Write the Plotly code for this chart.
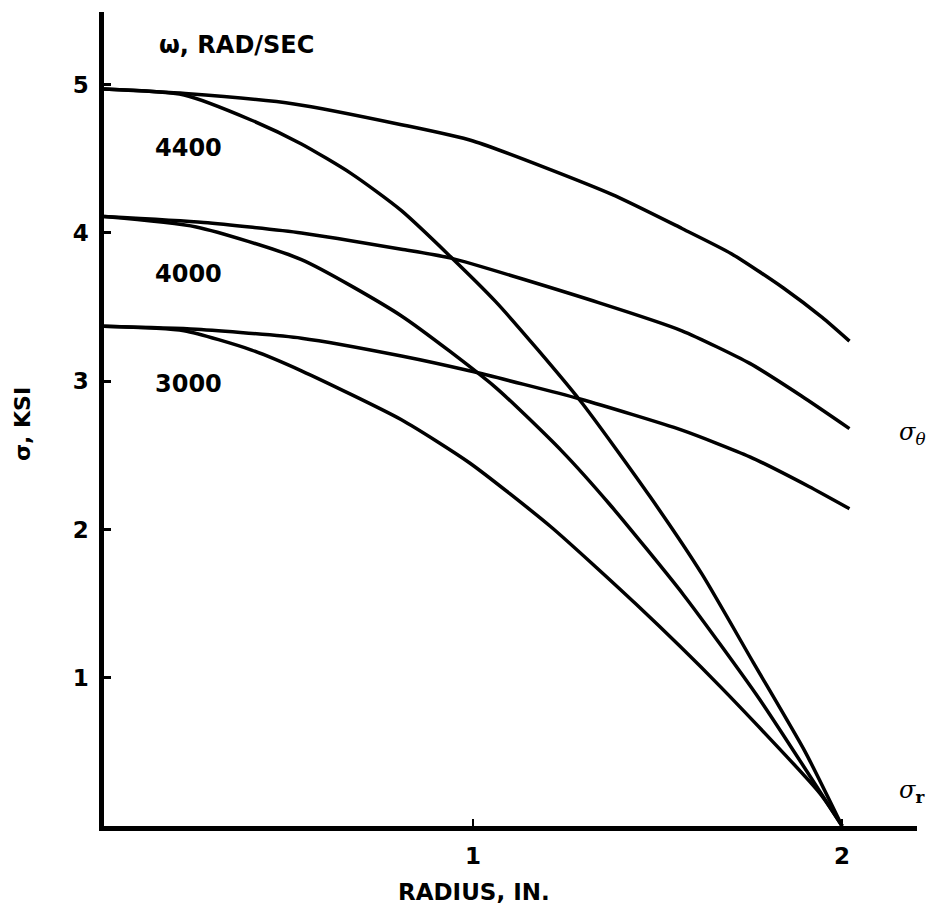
import plotly.graph_objects as go

# Angular speeds (rad/sec)
speeds = ["4400", "4000", "3000"]

# Tangential (hoop) stress sigma_theta, ksi
r_theta_4400 = [0.0, 0.22, 0.515, 0.806, 1.0, 1.376, 1.566, 1.70, 1.84, 1.946, 2.02]
s_theta_4400 = [4.97, 4.94, 4.87, 4.73, 4.62, 4.26, 4.03, 3.86, 3.63, 3.43, 3.27]
r_theta_4000 = [0.0, 0.27, 0.535, 0.806, 0.94, 1.34, 1.566, 1.75, 1.89, 2.02]
s_theta_4000 = [4.11, 4.07, 4.00, 3.89, 3.83, 3.53, 3.34, 3.12, 2.90, 2.68]
r_theta_3000 = [0.0, 0.25, 0.535, 0.806, 0.99, 1.29, 1.566, 1.75, 1.91, 2.02]
s_theta_3000 = [3.37, 3.35, 3.29, 3.17, 3.07, 2.88, 2.67, 2.49, 2.29, 2.14]

# Radial stress sigma_r, ksi
r_r_4400 = [0.0, 0.217, 0.40, 0.535, 0.67, 0.806, 1.06, 1.29, 1.48, 1.62, 1.76, 1.90, 2.0]
s_r_4400 = [4.97, 4.93, 4.76, 4.60, 4.40, 4.15, 3.54, 2.87, 2.22, 1.70, 1.10, 0.50, 0.0]
r_r_4000 = [0.0, 0.25, 0.535, 0.806, 1.06, 1.24, 1.37, 1.57, 1.775, 2.0]
s_r_4000 = [4.11, 4.04, 3.82, 3.44, 2.96, 2.53, 2.17, 1.56, 0.86, 0.0]
r_r_3000 = [0.0, 0.217, 0.40, 0.535, 0.806, 0.99, 1.21, 1.44, 1.67, 1.94, 2.0]
s_r_3000 = [3.37, 3.34, 3.21, 3.07, 2.74, 2.45, 2.02, 1.50, 0.94, 0.22, 0.0]

x_ticks = [1, 2]
x_ticktext = ["1", "2"]
y_ticks = [1, 2, 3, 4, 5]

FONT = "DejaVu Sans"
line_style = dict(color="black", width=3.5, shape="spline", smoothing=0.6)

fig = go.Figure()
for rx, sy in [(r_theta_4400, s_theta_4400), (r_theta_4000, s_theta_4000),
               (r_theta_3000, s_theta_3000), (r_r_4400, s_r_4400),
               (r_r_4000, s_r_4000), (r_r_3000, s_r_3000)]:
    fig.add_trace(go.Scatter(x=rx, y=sy, mode="lines", line=line_style,
                             showlegend=False, hoverinfo="skip", cliponaxis=False))

fig.update_layout(
    width=934, height=921,
    margin=dict(l=104, r=17, t=12, b=95),
    paper_bgcolor="white", plot_bgcolor="white",
    font=dict(family=FONT, color="black"),
    xaxis=dict(range=[0, 2.203], showline=True, linecolor="black", linewidth=4.5,
               showgrid=False, zeroline=False, tickvals=x_ticks, ticktext=x_ticktext,
               ticks="inside", ticklen=7, tickwidth=2, tickcolor="black",
               ticklabelstandoff=6,
               tickfont=dict(family=FONT, size=23, color="black", weight="bold")),
    yaxis=dict(range=[0, 5.49], showline=True, linecolor="black", linewidth=4.5,
               showgrid=False, zeroline=False, tickvals=y_ticks,
               ticks="inside", ticklen=7, tickwidth=3, tickcolor="black",
               ticklabelstandoff=6,
               tickfont=dict(family=FONT, size=23, color="black", weight="bold")),
)

labels = [
    (0.358, 5.27, "ω, RAD/SEC", 24),
    (0.228, 4.57, speeds[0], 24),
    (0.228, 3.72, speeds[1], 24),
    (0.228, 2.98, speeds[2], 24),
]
for x, y, t, s in labels:
    fig.add_annotation(x=x, y=y, xref="x", yref="y", text=t, showarrow=False,
                       xanchor="center", yanchor="middle",
                       font=dict(family=FONT, size=s, color="black", weight="bold"))

# sigma labels at the right
fig.add_annotation(x=2.19, y=2.65, xref="x", yref="y",
                   text="<i>σ</i><sub><i>θ</i></sub>", showarrow=False,
                   font=dict(family="DejaVu Serif", size=24, color="black"))
fig.add_annotation(x=2.19, y=0.23, xref="x", yref="y",
                   text="<i>σ</i><sub><b>r</b></sub>", showarrow=False,
                   font=dict(family="DejaVu Serif", size=24, color="black"))

# axis titles
fig.add_annotation(x=1.003, y=-0.081, xref="x", yref="paper", yanchor="middle",
                   text="RADIUS, IN.", showarrow=False,
                   font=dict(family=FONT, size=23, color="black", weight="bold"))
fig.add_annotation(x=-0.101, y=2.71, xref="paper", yref="y", textangle=-90,
                   xanchor="center", yanchor="middle",
                   text="σ, KSI", showarrow=False,
                   font=dict(family=FONT, size=22, color="black", weight="bold"))

fig.write_html("out.html")
